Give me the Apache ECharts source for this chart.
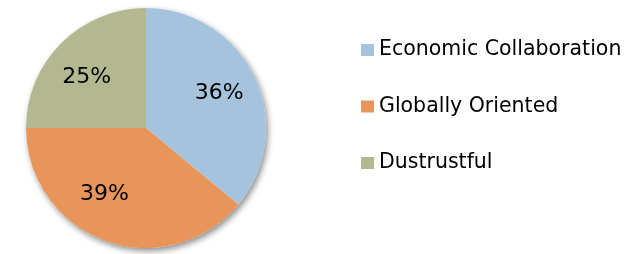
<!DOCTYPE html>
<html><head><meta charset="utf-8">
<script src="https://cdn.jsdelivr.net/npm/echarts@6/dist/echarts.min.js"></script>
<style>html,body{margin:0;padding:0;background:#fff}#c{width:641px;height:254px}</style>
</head><body><div id="c"></div>
<script>
const categories = ["Economic Collaboration", "Globally Oriented", "Dustrustful"];
const values = [36, 39, 25];
const colors = ["#a5c3dc", "#e8955b", "#b4b890"];
const FONT = "DejaVu Sans";
const chart = echarts.init(document.getElementById('c'));
const data = categories.map((n, i) => ({ name: n, value: values[i], itemStyle: { color: colors[i] } }));
// label nudges to mimic the original placement (style only)
const nudges = { "Globally Oriented": [-14, -10], "Dustrustful": [-2, 7] };
chart.setOption({
  animation: false,
  legend: {
    orient: 'vertical', left: 361, top: 39, padding: 0,
    itemWidth: 13, itemHeight: 12, itemGap: 34.5,
    icon: 'rect',
    textStyle: { fontFamily: FONT, fontSize: 20.5, color: '#000', lineHeight: 22, padding: [0,0,0,0] },
    data: categories
  },
  series: [
    { type: 'pie', silent: true, center: [146, 128], radius: [0, 120], startAngle: 90, clockwise: true,
      data: [{ name: '_bg', value: 1 }], label: { show: false }, labelLine: { show: false },
      itemStyle: { color: '#fff', shadowColor: 'rgba(0,0,0,0.45)', shadowBlur: 6, shadowOffsetX: 2, shadowOffsetY: 3 } },
    { type: 'pie', center: [146, 128], radius: [0, 120], startAngle: 90, clockwise: true,
      data: data, label: { show: false }, labelLine: { show: false } },
    { type: 'pie', silent: true, center: [146, 128], radius: [0, 156], startAngle: 90, clockwise: true,
      data: data.map(d => ({ name: d.name, value: d.value, itemStyle: { color: 'rgba(0,0,0,0)' },
        label: nudges[d.name] ? { offset: nudges[d.name] } : {} })),
      label: { show: true, position: 'inside', formatter: p => p.value + '%', fontFamily: FONT, fontSize: 22, color: '#000' },
      labelLine: { show: false } }
  ]
});
</script></body></html>
